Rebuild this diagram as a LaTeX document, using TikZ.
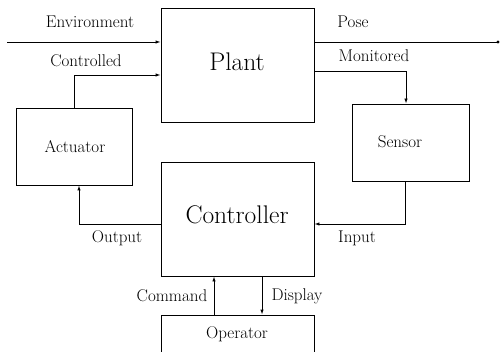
\documentclass[tikz,border=0pt]{standalone}
\usetikzlibrary{arrows.meta}
\begin{document}
\begin{tikzpicture}[x=1pt,y=-1pt,
  line width=0.9pt,
  blk/.style={draw, rectangle, inner sep=0pt, line width=0.9pt},
  big/.style={font=\fontsize{25.5}{28}\selectfont},
  sml/.style={font=\fontsize{17}{20}\selectfont},
  lbl/.style={sml, inner sep=0pt},
  arr/.style={-{Latex[length=5pt,width=3.5pt]}}]
\useasboundingbox (0,0) rectangle (502,352);
\clip (0,0) rectangle (502,352);
% blocks
\node[blk, minimum width=153pt, minimum height=114pt] (plant) at (237.5,65) {};
\node[big] (plantt) at (237,62) {Plant};
\node[blk, minimum width=153pt, minimum height=114pt] (ctrl) at (237.5,219) {};
\node[big] (ctrlt) at (237,215) {Controller};
\node[blk, minimum width=116pt, minimum height=77pt] (act) at (74,146.5) {};
\node[sml] (actt) at (75,147) {Actuator};
\node[blk, minimum width=117pt, minimum height=77pt] (sens) at (410.5,142.5) {};
\node[sml] (senst) at (400,142) {Sensor};
\node[blk, minimum width=153pt, minimum height=38pt] (oper) at (237.5,334) {};
\node[sml] (opert) at (237,334) {Operator};
% coordinates
\coordinate (envstart) at (7,42);
\coordinate (poseend) at (498,42);
\coordinate (ctlY) at (0,75);
\coordinate (monY) at (0,71);
\coordinate (ioY) at (0,224);
\coordinate (monX) at (406,0);
\coordinate (outX) at (79,0);
\coordinate (inX) at (405,0);
\coordinate (cmdX) at (214,0);
\coordinate (dispX) at (262,0);
% connectors
\draw[arr] (envstart) -- (envstart -| plant.west);
\draw (poseend -| plant.east) -- (poseend);
\fill (poseend) circle (1.6pt);
\draw[arr] (act.north) |- (plant.west |- ctlY);
\draw[arr] (plant.east |- monY) -| (monX |- sens.north);
\draw[arr] (ctrl.west |- ioY) -| (outX |- act.south);
\draw[arr] (inX |- sens.south) |- (ctrl.east |- ioY);
\draw[arr] (cmdX |- oper.north) -- (cmdX |- ctrl.south);
\draw[arr] (dispX |- ctrl.south) -- (dispX |- oper.north);
% labels
\node[lbl] (l1) at (90,22) {Environment};
\node[lbl] (l2) at (86,61) {Controlled};
\node[lbl] (l3) at (353,22) {Pose};
\node[lbl] (l4) at (374,56) {Monitored};
\node[lbl] (l5) at (117,238) {Output};
\node[lbl] (l6) at (357,238) {Input};
\node[lbl] (l7) at (172,296) {Command};
\node[lbl] (l8) at (297,296) {Display};
\end{tikzpicture}
\end{document}
